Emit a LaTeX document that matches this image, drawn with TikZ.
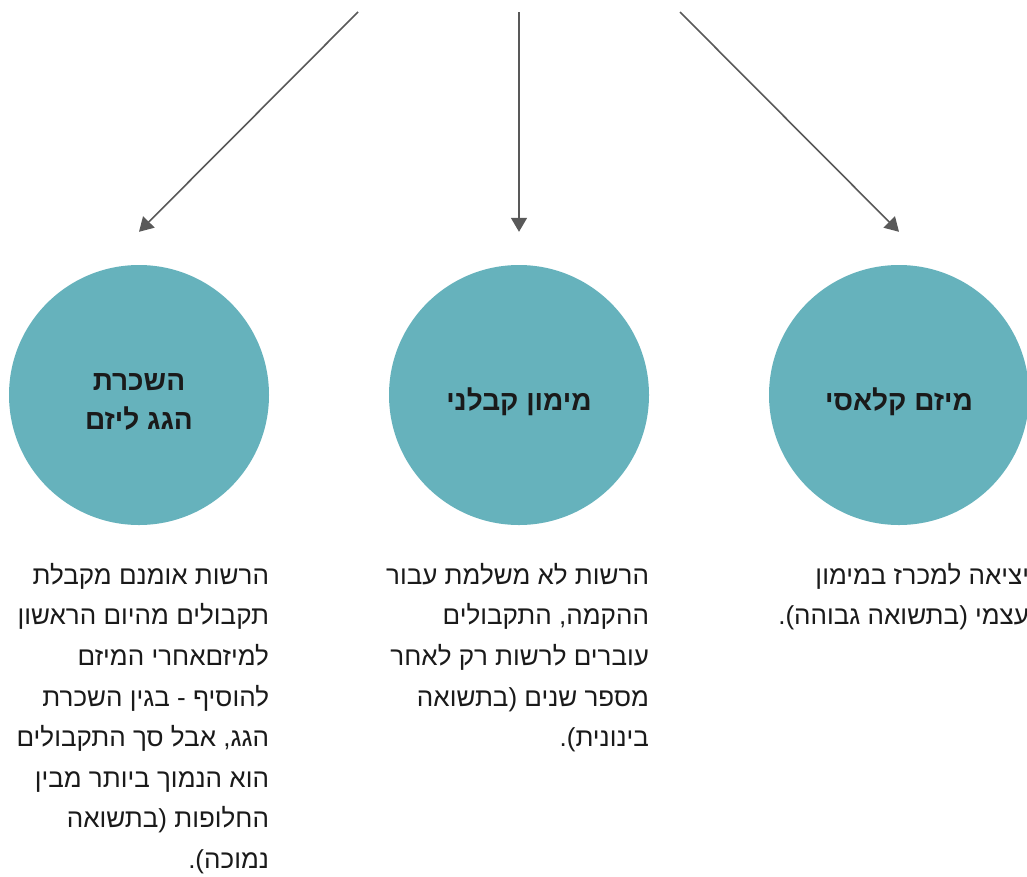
\documentclass[tikz,border=0pt]{standalone}
\usepackage{fontspec}
\setmainfont{Liberation Sans}[Script=Hebrew]
\usetikzlibrary{arrows.meta,calc}
\TeXXeTstate=1
\definecolor{circlefill}{HTML}{66B2BC}
\definecolor{arrowgray}{HTML}{595959}
\definecolor{ink}{HTML}{1A1A1A}
\tikzset{
  bubble/.style={circle, fill=circlefill, minimum size=260pt, inner sep=0pt},
  title/.style={align=center, text=ink, yshift=-7pt, font=\bfseries\fontsize{28}{39}\selectfont},
  flow/.style={-{Triangle[length=14pt,width=16pt]}, line width=1.6pt, draw=arrowgray},
  blurb/.style={anchor=north east, inner sep=0pt, align=right, text=ink, font=\fontsize{26}{40.6}\selectfont}
}
\newcommand{\rtl}[1]{\beginR #1\endR}

\begin{document}
\begin{tikzpicture}[x=1pt,y=-1pt]
  \useasboundingbox (0,0) rectangle (1027,876);
  % the three options
  \node[bubble, label={[title]center:{\rtl{השכרת}\\\rtl{הגג ליזם}}}] (roof) at (139,395) {};
  \node[bubble, label={[title]center:\rtl{מימון קבלני}}] (contract) at (519,395) {};
  \node[bubble, label={[title]center:\rtl{מיזם קלאסי}}] (classic) at (899,395) {};
  % arrows come in from the top
  \coordinate (fromL) at (358,12);
  \coordinate (fromM) at (519,12);
  \coordinate (fromR) at (680,12);
  \coordinate (toL) at ($(roof.north)+(0,-33)$);
  \coordinate (toM) at ($(contract.north)+(0,-33)$);
  \coordinate (toR) at ($(classic.north)+(0,-33)$);
  \draw[flow] (fromL) -- (toL);
  \draw[flow] (fromM) -- (toM);
  \draw[flow] (fromR) -- (toR);
  % notes under each circle
  \node[blurb] (roofnote) at ($(roof.east)+(0,168)$) {%
    \rtl{הרשות אומנם מקבלת}\\
    \rtl{תקבולים מהיום הראשון}\\
    \rtl{למיזםאחרי המיזם}\\
    \rtl{להוסיף - בגין השכרת}\\
    \rtl{הגג, אבל סך התקבולים}\\
    \rtl{הוא הנמוך ביותר מבין}\\
    \rtl{החלופות (בתשואה}\\
    \rtl{נמוכה).}};
  \node[blurb] (contractnote) at ($(contract.east)+(0,168)$) {%
    \rtl{הרשות לא משלמת עבור}\\
    \rtl{ההקמה, התקבולים}\\
    \rtl{עוברים לרשות רק לאחר}\\
    \rtl{מספר שנים (בתשואה}\\
    \rtl{בינונית).}};
  \node[blurb] (classicnote) at ($(classic.east)+(0,168)$) {%
    \rtl{יציאה למכרז במימון}\\
    \rtl{עצמי (בתשואה גבוהה).}};
\end{tikzpicture}
\end{document}
